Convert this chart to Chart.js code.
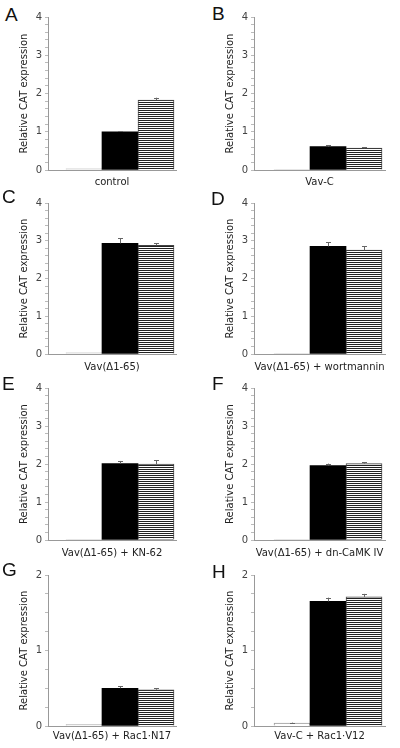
<!DOCTYPE html>
<html>
<head>
<meta charset="utf-8">
<script src="https://cdn.jsdelivr.net/npm/chart.js@4.4.1/dist/chart.umd.min.js"></script>
<style>
    body { margin: 0; background: #fff; width: 400px; height: 748px; overflow: hidden; position: relative; }
    canvas { position: absolute; }
    .letter { position: absolute; font: 19px "Liberation Sans", Arial, sans-serif; line-height: 19px; color: #111; }
</style>
</head>
<body>
<script>
// Panel data (one entry per panel, A..H)
const panelLetters = ['A', 'B', 'C', 'D', 'E', 'F', 'G', 'H'];
const panelLabels = [
    'control',
    'Vav-C',
    'Vav(\u03941-65)',
    'Vav(\u03941-65) + wortmannin',
    'Vav(\u03941-65) + KN-62',
    'Vav(\u03941-65) + dn-CaMK IV',
    'Vav(\u03941-65) + Rac1\u00b7N17',
    'Vav-C + Rac1\u00b7V12'
];
const yMaxes = [4, 4, 4, 4, 4, 4, 2, 2];
const yTickSteps = [0.2, 0.2, 0.2, 0.2, 0.2, 0.2, 0.25, 0.25];

// bar positions inside each panel
const barSlots = [1, 2, 3];
const controlValues = [0.03, 0.005, 0.03, 0.02, 0.02, 0.02, 0.02, 0.04];
const blackValues   = [1.0, 0.61, 2.93, 2.85, 2.01, 1.96, 0.50, 1.65];
const stripedValues = [1.83, 0.57, 2.88, 2.75, 2.0, 2.01, 0.48, 1.71];
const controlErrors = [0, 0, 0, 0, 0, 0, 0, 0.005];
const blackErrors   = [0.01, 0.04, 0.13, 0.11, 0.07, 0.05, 0.03, 0.05];
const stripedErrors = [0.06, 0.03, 0.05, 0.11, 0.1, 0.04, 0.02, 0.04];

// layout
const rowTops = [0, 186, 371, 558];
const chartHeights = [153, 151, 152, 151];
const titlePadBottom = [0, 1, 0, 4];
const letterPos = [[5, 5], [212, 4], [2, 187], [211, 189], [2, 374], [212, 374], [2, 560], [212, 562]];

function makeStripes() {
    const c = document.createElement('canvas');
    c.width = 4; c.height = 2;
    const g = c.getContext('2d');
    g.fillStyle = '#fff'; g.fillRect(0, 0, 4, 2);
    g.fillStyle = '#222'; g.fillRect(0, 0, 4, 1);
    return g.createPattern(c, 'repeat');
}
const stripes = makeStripes();

// error bars drawn on top of the bars
const errorBarPlugin = {
    id: 'errorBars',
    afterDatasetsDraw(chart) {
        const ctx = chart.ctx;
        const yScale = chart.scales.y;
        chart.data.datasets.forEach((ds, di) => {
            const meta = chart.getDatasetMeta(di);
            meta.data.forEach((bar, i) => {
                const err = ds.errors[i];
                if (!err) return;
                const v = ds.data[i].y;
                const y0 = yScale.getPixelForValue(v);
                const y1 = yScale.getPixelForValue(v + err);
                ctx.save();
                ctx.strokeStyle = '#666';
                ctx.lineWidth = 1;
                ctx.beginPath();
                ctx.moveTo(Math.round(bar.x) + 0.5, y0);
                ctx.lineTo(Math.round(bar.x) + 0.5, y1);
                ctx.moveTo(Math.round(bar.x) - 2, Math.round(y1) + 0.5);
                ctx.lineTo(Math.round(bar.x) + 3, Math.round(y1) + 0.5);
                ctx.stroke();
                ctx.restore();
            });
        });
    }
};

panelLetters.forEach((letter, i) => {
    const col = i % 2;
    const row = Math.floor(i / 2);

    const div = document.createElement('div');
    div.className = 'letter';
    div.textContent = letter;
    div.style.left = letterPos[i][0] + 'px';
    div.style.top = letterPos[i][1] + 'px';
    document.body.appendChild(div);

    const canvas = document.createElement('canvas');
    canvas.width = 200;
    canvas.height = 188;
    canvas.style.left = (col * 200) + 'px';
    canvas.style.top = rowTops[row] + 'px';
    document.body.appendChild(canvas);

    const values = [controlValues[i], blackValues[i], stripedValues[i]];
    const errors = [controlErrors[i], blackErrors[i], stripedErrors[i]];
    const yAxisWidth = col ? 54 : 48;
    const xAxisHeight = 188 - 17 - chartHeights[row];

    new Chart(canvas, {
        type: 'bar',
        data: {
            datasets: [{
                data: barSlots.map((x, k) => ({ x: x, y: values[k] })),
                errors: errors,
                backgroundColor: ['#fff', '#000', stripes],
                borderColor: ['#999', '#000', '#444'],
                borderWidth: [1, 0, 1],
                barPercentage: 1,
                categoryPercentage: 1
            }]
        },
        options: {
            responsive: false,
            animation: false,
            devicePixelRatio: 1,
            layout: { padding: { top: 17, right: col ? 15 : 24, left: 0, bottom: 0 } },
            plugins: { legend: { display: false }, tooltip: { enabled: false } },
            scales: {
                x: {
                    type: 'linear',
                    min: col ? -0.056 : 0,
                    max: col ? 3.583 : 3.556,
                    afterBuildTicks: s => { s.ticks = []; },
                    afterFit: s => { s.height = xAxisHeight; },
                    ticks: { display: false },
                    grid: { display: false },
                    border: { display: true, color: '#999', width: 1 },
                    title: {
                        display: true,
                        text: panelLabels[i],
                        color: '#222',
                        font: { family: 'DejaVu Sans', size: 10 },
                        padding: { top: 0, bottom: titlePadBottom[row] }
                    }
                },
                y: {
                    min: 0,
                    max: yMaxes[i],
                    afterFit: s => { s.width = yAxisWidth; },
                    ticks: {
                        stepSize: yTickSteps[i],
                        maxTicksLimit: 40,
                        autoSkip: false,
                        padding: 3,
                        color: '#444',
                        font: { family: 'DejaVu Sans', size: 10 },
                        callback: v => Math.abs(v - Math.round(v)) < 1e-6 ? String(Math.round(v)) : ''
                    },
                    grid: { drawOnChartArea: false, drawTicks: true, tickLength: 3, color: '#bbb' },
                    border: { display: true, color: '#999', width: 1 },
                    title: {
                        display: true,
                        text: 'Relative CAT expression',
                        color: '#222',
                        font: { family: 'DejaVu Sans', size: 10 },
                        padding: { top: col ? 24 : 18, bottom: 0 }
                    }
                }
            }
        },
        plugins: [errorBarPlugin]
    });
});
</script>
</body>
</html>
